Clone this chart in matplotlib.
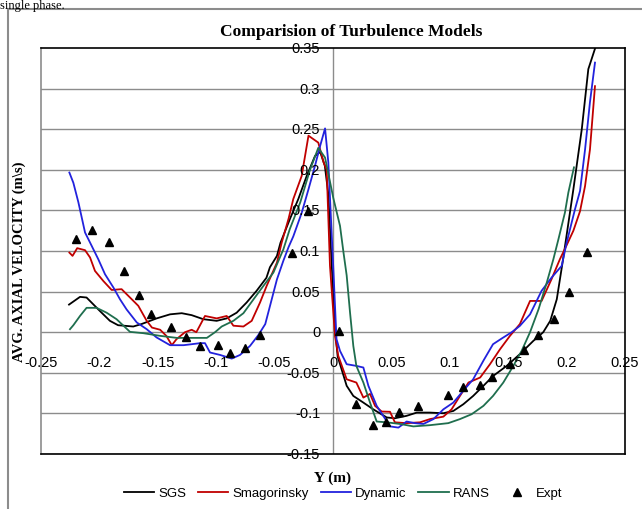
import matplotlib.pyplot as plt
from matplotlib.lines import Line2D

plt.rcParams['font.family'] = ['Liberation Sans Narrow', 'Liberation Sans', 'DejaVu Sans']

# data
sgs_x = [-0.226, -0.2166, -0.211, -0.1995, -0.191, -0.184, -0.171, -0.164, -0.151, -0.1395,
         -0.1295, -0.121, -0.111, -0.0996, -0.091, -0.0825, -0.074, -0.0654, -0.057, -0.054,
         -0.048, -0.045, -0.037, -0.0297, -0.0225, -0.0154, -0.011, -0.007, -0.004, -0.001,
         0.002, 0.004, 0.0117, 0.0174, 0.026, 0.0345, 0.046, 0.053, 0.063, 0.0717,
         0.083, 0.0945, 0.103, 0.1116, 0.120, 0.1288, 0.137, 0.1487, 0.160, 0.1715,
         0.180, 0.186, 0.1916, 0.197, 0.2058, 0.213, 0.2186, 0.2245]
sgs_y = [0.034, 0.0435, 0.0427, 0.026, 0.014, 0.0086, 0.007, 0.010, 0.017, 0.022,
         0.0234, 0.021, 0.016, 0.014, 0.017, 0.024, 0.0365, 0.051, 0.067, 0.080,
         0.094, 0.110, 0.139, 0.164, 0.1925, 0.217, 0.222, 0.205, 0.17, 0.08,
         0.0, -0.03, -0.066, -0.0785, -0.0867, -0.095, -0.105, -0.106, -0.103, -0.099,
         -0.099, -0.0998, -0.097, -0.0887, -0.0785, -0.066, -0.054, -0.0415, -0.027, -0.0107,
         0.0, 0.014, 0.0406, 0.09, 0.176, 0.25, 0.324, 0.35]

smag_x = [-0.2257, -0.223, -0.219, -0.2123, -0.208, -0.2038, -0.1966, -0.1895, -0.181, -0.1738,
          -0.1667, -0.1595, -0.155, -0.148, -0.1427, -0.138, -0.134, -0.1267, -0.121, -0.117,
          -0.1096, -0.0996, -0.091, -0.0853, -0.0767, -0.0696, -0.0625, -0.0568, -0.048, -0.044,
          -0.038, -0.034, -0.0268, -0.021, -0.0126, -0.008, -0.0054, -0.0026, 0.0017, 0.0045,
          0.0117, 0.020, 0.026, 0.0317, 0.036, 0.0417, 0.0488, 0.053, 0.063, 0.0745,
          0.083, 0.0945, 0.1015, 0.1087, 0.116, 0.126, 0.1344, 0.143, 0.1515, 0.160,
          0.1687, 0.1786, 0.187, 0.1943, 0.200, 0.2058, 0.2115, 0.2158, 0.220, 0.2243]
smag_y = [0.098, 0.094, 0.1035, 0.101, 0.092, 0.0755, 0.063, 0.052, 0.053, 0.0427,
          0.0325, 0.014, 0.0057, 0.003, -0.0045, -0.016, -0.0086, 0.0, 0.003, 0.0,
          0.020, 0.017, 0.020, 0.008, 0.007, 0.014, 0.0365, 0.057, 0.0857, 0.11,
          0.14, 0.164, 0.1925, 0.242, 0.2335, 0.209, 0.200, 0.082, -0.0045, -0.029,
          -0.058, -0.062, -0.0805, -0.076, -0.0907, -0.0977, -0.098, -0.111, -0.112, -0.111,
          -0.107, -0.104, -0.095, -0.0785, -0.062, -0.0558, -0.0394, -0.021, -0.0045, 0.010,
          0.0385, 0.0385, 0.065, 0.09, 0.107, 0.125, 0.149, 0.18, 0.225, 0.303]

dyn_x = [-0.2257, -0.2223, -0.218, -0.2123, -0.2066, -0.201, -0.1952, -0.188, -0.1824, -0.1767,
         -0.168, -0.1595, -0.151, -0.1395, -0.128, -0.121, -0.1139, -0.1096, -0.1053, -0.0967,
         -0.0867, -0.0796, -0.071, -0.064, -0.058, -0.054, -0.048, -0.0425, -0.038, -0.034,
         -0.0268, -0.021, -0.0154, -0.011, -0.0068, -0.004, 0.0003, 0.003, 0.006, 0.0117,
         0.020, 0.026, 0.0303, 0.0374, 0.043, 0.0488, 0.056, 0.063, 0.070, 0.0774,
         0.086, 0.0945, 0.103, 0.1116, 0.120, 0.1288, 0.137, 0.1444, 0.153, 0.160,
         0.1687, 0.1786, 0.187, 0.1958, 0.200, 0.2072, 0.2115, 0.2158, 0.220, 0.2243]
dyn_y = [0.1966, 0.184, 0.160, 0.1228, 0.1063, 0.090, 0.0714, 0.055, 0.0406, 0.028,
         0.012, 0.0037, -0.0065, -0.016, -0.016, -0.0148, -0.0135, -0.0135, -0.025, -0.028,
         -0.0325, -0.028, -0.0168, -0.0037, 0.010, 0.032, 0.065, 0.088, 0.105, 0.118,
         0.147, 0.176, 0.205, 0.2295, 0.251, 0.209, 0.0776, -0.0086, -0.023, -0.0394,
         -0.0415, -0.0435, -0.066, -0.0907, -0.103, -0.116, -0.1175, -0.110, -0.112, -0.113,
         -0.107, -0.095, -0.0867, -0.072, -0.058, -0.035, -0.0148, -0.0078, 0.0, 0.0078,
         0.022, 0.051, 0.067, 0.0817, 0.110, 0.1515, 0.174, 0.225, 0.2833, 0.332]

rans_x = [-0.2252, -0.2223, -0.2166, -0.211, -0.2024, -0.1938, -0.1853, -0.1738, -0.1624, -0.148,
          -0.1338, -0.1196, -0.108, -0.101, -0.0953, -0.0853, -0.0767, -0.068, -0.0596, -0.051,
          -0.0425, -0.037, -0.028, -0.0197, -0.0126, -0.0068, 0.0003, 0.006, 0.009, 0.0117,
          0.0146, 0.0174, 0.020, 0.026, 0.0317, 0.0374, 0.046, 0.0574, 0.0688, 0.083,
          0.0987, 0.1087, 0.1187, 0.1288, 0.137, 0.1458, 0.1544, 0.1615, 0.1687, 0.176,
          0.183, 0.1887, 0.193, 0.1986, 0.2015, 0.2063]
rans_y = [0.0037, 0.0086, 0.020, 0.030, 0.030, 0.024, 0.016, 0.0004, -0.0012, -0.0045,
          -0.007, -0.007, -0.007, 0.0, 0.007, 0.014, 0.0234, 0.0406, 0.057, 0.0735,
          0.102, 0.127, 0.160, 0.200, 0.227, 0.215, 0.165, 0.131, 0.098, 0.070,
          0.024, -0.017, -0.0415, -0.062, -0.0867, -0.110, -0.111, -0.113, -0.116, -0.1145,
          -0.112, -0.107, -0.101, -0.0907, -0.0785, -0.062, -0.0415, -0.023, 0.0, 0.0283,
          0.061, 0.090, 0.1145, 0.1475, 0.172, 0.203]

expt_x = [-0.220, -0.206, -0.192, -0.179, -0.166, -0.156, -0.139, -0.126, -0.114, -0.0987,
          -0.088, -0.075, -0.0625, -0.035, -0.021, 0.005, 0.0197, 0.0345, 0.045, 0.0563,
          0.0725, 0.0985, 0.111, 0.126, 0.1364, 0.1513, 0.1638, 0.1755, 0.1895, 0.2023, 0.2172]
expt_y = [0.115, 0.126, 0.111, 0.0755, 0.0455, 0.023, 0.007, -0.006, -0.017, -0.016,
          -0.026, -0.019, -0.003, 0.098, 0.149, 0.001, -0.088, -0.1145, -0.110, -0.0977,
          -0.0915, -0.0776, -0.0677, -0.065, -0.0546, -0.0386, -0.022, -0.004, 0.016, 0.0497, 0.099]

xticks = [-0.25, -0.2, -0.15, -0.1, -0.05, 0, 0.05, 0.1, 0.15, 0.2, 0.25]
yticks = [-0.15, -0.1, -0.05, 0, 0.05, 0.1, 0.15, 0.2, 0.25, 0.3, 0.35]

fig = plt.figure(figsize=(6.42, 5.10), dpi=100)
ax = fig.add_axes([41/642, 1-455/510, 584/642, 406/510])
ax.set_xlim(-0.25, 0.25)
ax.set_ylim(-0.15, 0.35)

for yv in yticks[:-1]:
    ax.axhline(yv, color='#8c8c8c', lw=1.0, zorder=1)
ax.axvline(0, color='#8c8c8c', lw=1.0, zorder=1)

ax.plot(sgs_x, sgs_y, color='black', lw=1.3, label='SGS', zorder=3)
ax.plot(smag_x, smag_y, color='#c00000', lw=1.3, label='Smagorinsky', zorder=3)
ax.plot(dyn_x, dyn_y, color='#2222dd', lw=1.3, label='Dynamic', zorder=3)
ax.plot(rans_x, rans_y, color='#1f6e4e', lw=1.3, label='RANS', zorder=3)
ax.plot(expt_x, expt_y, ls='none', marker='^', color='black', ms=5.5, label='Expt', zorder=4)

ax.set_xticks([])
ax.set_yticks([])
for s in ['top', 'right', 'bottom']:
    ax.spines[s].set_color('black')
    ax.spines[s].set_linewidth(1.2)
ax.spines['left'].set_color('#8c8c8c')
ax.spines['left'].set_linewidth(1.2)

for xv in xticks:
    ax.text(xv, -0.037, ('%g' % xv), ha='center', va='center', fontsize=10.5, zorder=5)
for yv in yticks:
    ax.text(-0.011, yv, ('%g' % yv), ha='right', va='center', fontsize=10.5, zorder=5)

fig.text(351/642, 1-32/510, 'Comparision of Turbulence Models', ha='center', va='center',
         family='Liberation Serif', fontsize=12.5, fontweight='bold')
fig.text(19/642, 1-262/510, r'AVG. AXIAL VELOCITY (m\s)', ha='center', va='center',
         rotation=90, family='Liberation Serif', fontsize=10.5, fontweight='bold')
fig.text(333/642, 1-478/510, 'Y (m)', ha='center', va='center',
         family='Liberation Serif', fontsize=11, fontweight='bold')
fig.text(0.0, 1.0, 'single phase.', ha='left', va='top',
         family='Liberation Serif', fontsize=9)

# outer chart border (left and top visible)
fig.add_artist(Line2D([8/642, 8/642], [0, 1-10/510], color='#8c8c8c', lw=1.5))
fig.add_artist(Line2D([8/642, 1], [1-10/510, 1-10/510], color='#8c8c8c', lw=1.5))

fig.legend(loc='center', bbox_to_anchor=(343/642, 1-494/510), ncol=5, frameon=False,
           fontsize=9.5, handlelength=2.3, columnspacing=0.9, handletextpad=0.3)

fig.savefig('out.png', dpi=100)
